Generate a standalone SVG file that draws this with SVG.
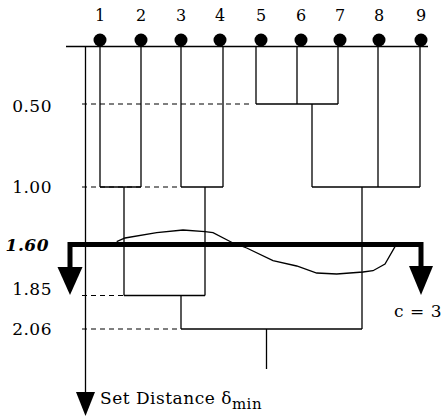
<svg xmlns="http://www.w3.org/2000/svg" width="444" height="418" viewBox="0 0 444 418">
  <style>
    .ln { stroke: #000; stroke-width: 1.3; fill: none; }
    .dash { stroke: #000; stroke-width: 1.2; stroke-dasharray: 5 4; fill: none; }
    .thick { stroke: #000; stroke-width: 5; fill: none; }
    .lbl { font-family: "DejaVu Serif", "Liberation Serif", serif; font-size: 17px; letter-spacing: 0.5px; fill: #000; }
    .num { font-family: "DejaVu Serif", "Liberation Serif", serif; font-size: 16px; fill: #000; text-anchor: middle; }
    .dot { fill: #000; }
    .head { fill: #000; }
  </style>

  <!-- leaves -->
  <g id="leaf-1"><circle class="dot" cx="100" cy="40" r="6.5"/><text class="num" x="100" y="21">1</text></g>
  <g id="leaf-2"><circle class="dot" cx="141" cy="40" r="6.5"/><text class="num" x="141" y="21">2</text></g>
  <g id="leaf-3"><circle class="dot" cx="181" cy="40" r="6.5"/><text class="num" x="181" y="21">3</text></g>
  <g id="leaf-4"><circle class="dot" cx="220" cy="40" r="6.5"/><text class="num" x="220" y="21">4</text></g>
  <g id="leaf-5"><circle class="dot" cx="261" cy="40" r="6.5"/><text class="num" x="261" y="21">5</text></g>
  <g id="leaf-6"><circle class="dot" cx="301" cy="40" r="6.5"/><text class="num" x="301" y="21">6</text></g>
  <g id="leaf-7"><circle class="dot" cx="340" cy="40" r="6.5"/><text class="num" x="340" y="21">7</text></g>
  <g id="leaf-8"><circle class="dot" cx="379" cy="40" r="6.5"/><text class="num" x="379" y="21">8</text></g>
  <g id="leaf-9"><circle class="dot" cx="421" cy="40" r="6.5"/><text class="num" x="421" y="21">9</text></g>

  <!-- distance levels -->
  <g id="levels">
    <text class="lbl" x="52" y="112" text-anchor="end">0.50</text>
    <text class="lbl" x="52" y="193" text-anchor="end">1.00</text>
    <text class="lbl" x="49" y="251" text-anchor="end" font-weight="bold" font-style="italic">1.60</text>
    <text class="lbl" x="52" y="295" text-anchor="end">1.85</text>
    <text class="lbl" x="52" y="335" text-anchor="end">2.06</text>
  </g>

  <!-- dendrogram connectors -->
  <g id="connectors">
    <line class="ln" x1="66" y1="46.5" x2="428" y2="46.5"/>
    <!-- leaf stems -->
    <line class="ln" x1="100" y1="46.5" x2="100" y2="187"/>
    <line class="ln" x1="141" y1="46.5" x2="141" y2="187"/>
    <line class="ln" x1="181" y1="46.5" x2="181" y2="187"/>
    <line class="ln" x1="223" y1="46.5" x2="223" y2="187"/>
    <line class="ln" x1="256" y1="46.5" x2="256" y2="104"/>
    <line class="ln" x1="297" y1="46.5" x2="297" y2="104"/>
    <line class="ln" x1="338" y1="46.5" x2="338" y2="104"/>
    <line class="ln" x1="378" y1="46.5" x2="378" y2="187"/>
    <line class="ln" x1="420" y1="46.5" x2="420" y2="187"/>
    <!-- level 0.50 -->
    <line class="dash" x1="82" y1="104" x2="252" y2="104"/>
    <line class="ln" x1="256" y1="104" x2="338" y2="104"/>
    <line class="ln" x1="312" y1="104" x2="312" y2="187"/>
    <!-- level 1.00 -->
    <line class="dash" x1="82" y1="187" x2="178" y2="187"/>
    <line class="ln" x1="100" y1="187" x2="141" y2="187"/>
    <line class="ln" x1="181" y1="187" x2="223" y2="187"/>
    <line class="ln" x1="312" y1="187" x2="420" y2="187"/>
    <line class="ln" x1="124" y1="187" x2="124" y2="295.5"/>
    <line class="ln" x1="205" y1="187" x2="205" y2="295.5"/>
    <line class="ln" x1="362" y1="187" x2="362" y2="329"/>
    <!-- level 1.85 -->
    <line class="dash" x1="82" y1="295.5" x2="124" y2="295.5"/>
    <line class="ln" x1="124" y1="295.5" x2="205" y2="295.5"/>
    <line class="ln" x1="181" y1="295.5" x2="181" y2="329"/>
    <!-- level 2.06 -->
    <line class="dash" x1="82" y1="329" x2="181" y2="329"/>
    <line class="ln" x1="181" y1="329" x2="362" y2="329"/>
    <line class="ln" x1="266.5" y1="329" x2="266.5" y2="369"/>
  </g>

  <!-- distance axis -->
  <g id="axis">
    <line class="ln" x1="85.5" y1="46.5" x2="85.5" y2="394"/>
    <polygon class="head" points="76,392 95,392 85.5,416"/>
    <text class="lbl" x="100" y="404">Set Distance δ<tspan font-size="15" dy="5">min</tspan></text>
  </g>

  <!-- cut at 1.60 -->
  <g id="cut">
    <path class="ln" d="M116.7,241.7 L125,238 L156.7,232.7 L183,230 L205,231.7 L213,232.7 L233,243 L246.7,248 L273,260.7 L296.7,266 L316.7,273 L336.7,274 L363,272 L373,270.7 L385,264 L395,246.7"/>
    <path class="thick" d="M70,268 V244.5 H421 V268"/>
    <polygon class="head" points="57.5,267 82.5,267 70,295"/>
    <polygon class="head" points="409,266 433,266 421,295"/>
    <text class="lbl" x="442" y="317" text-anchor="end">c = 3</text>
  </g>
</svg>
